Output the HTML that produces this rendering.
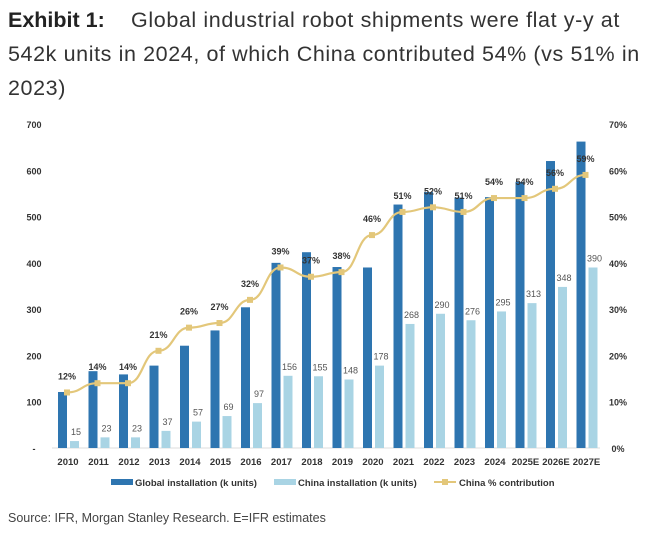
<!DOCTYPE html>
<html><head><style>
body{margin:0;background:#fff;width:660px;height:534px;overflow:hidden;font-family:"Liberation Sans",sans-serif}
.t{position:absolute;left:8px;top:3px;font-size:21.5px;line-height:34px;color:#333;width:660px;white-space:nowrap;letter-spacing:0.6px}
.s{position:absolute;left:8px;top:511px;font-size:12.5px;color:#444}
</style></head><body>
<div class="t"><b style="color:#222;letter-spacing:0">Exhibit 1:</b>&nbsp;&nbsp;&nbsp; Global industrial robot shipments were flat y-y at<br>542k units in 2024, of which China contributed 54% (vs 51% in<br>2023)</div>
<svg width="660" height="534" style="position:absolute;left:0;top:0" font-family="Liberation Sans, sans-serif">
<g id="g"></g>
</svg>
<div class="s">Source: IFR, Morgan Stanley Research. E=IFR estimates</div>
<script>
const G=[121,166,159,178,221,254,304,400,423,391,390,526,553,541,542,575,620,662];
const C=[15,23,23,37,57,69,97,156,155,148,178,268,290,276,295,313,348,390];
const P=[12,14,14,21,26,27,32,39,37,38,46,51,52,51,54,54,56,59];
const L=['2010','2011','2012','2013','2014','2015','2016','2017','2018','2019','2020','2021','2022','2023','2024','2025E','2026E','2027E'];
const y0=448,k=324/700,yp=v=>y0-v*324/70;
let s='';
for(let i=0;i<=7;i++){let y=y0-i*100*k;s+=`<text x="34" y="${y+4}" font-size="9" font-weight="bold" fill="#333" text-anchor="middle">${i?i*100:'-'}</text><text x="618" y="${y+4}" font-size="9" font-weight="bold" fill="#333" text-anchor="middle">${i*10}%</text>`;}
s+=`<line x1="52" x2="600" y1="${y0}" y2="${y0}" stroke="#ddd"/>`;
let pts=[];
for(let i=0;i<18;i++){let cx=68+i*30.5;let gh=G[i]*k,ch=C[i]*k;
s+=`<rect x="${cx-10}" y="${y0-gh}" width="9" height="${gh}" fill="#2e75b0"/><rect x="${cx+2}" y="${y0-ch}" width="9" height="${ch}" fill="#a9d4e4"/>`;
s+=`<text x="${cx+8}" y="${y0-ch-6}" font-size="9" fill="#555" text-anchor="middle">${C[i]}</text>`;
s+=`<text x="${cx}" y="465" font-size="9.5" font-weight="bold" fill="#333" text-anchor="middle">${L[i]}</text>`;
pts.push([cx-1,yp(P[i])]);}
let d='M'+pts[0].join(',');
for(let i=1;i<pts.length;i++){let a=pts[i-1],b=pts[i],m=(b[0]-a[0])/2;d+=` C${a[0]+m},${a[1]} ${b[0]-m},${b[1]} ${b[0]},${b[1]}`;}
s+=`<path d="${d}" fill="none" stroke="#e3c77a" stroke-width="2.2"/>`;
pts.forEach((p,i)=>{s+=`<rect x="${p[0]-3}" y="${p[1]-3}" width="6" height="6" fill="#e3c77a"/><text x="${p[0]}" y="${p[1]-13}" font-size="9" font-weight="bold" fill="#333" text-anchor="middle">${P[i]}%</text>`;});
s+=`<rect x="111" y="479" width="22" height="6" fill="#2e75b0"/><text x="135" y="486" font-size="9.5" font-weight="bold" fill="#333">Global installation (k units)</text>`;
s+=`<rect x="274" y="479" width="22" height="6" fill="#a9d4e4"/><text x="298" y="486" font-size="9.5" font-weight="bold" fill="#333">China installation (k units)</text>`;
s+=`<line x1="434" x2="456" y1="482" y2="482" stroke="#e3c77a" stroke-width="2"/><rect x="442" y="479" width="6" height="6" fill="#e3c77a"/><text x="459" y="486" font-size="9.5" font-weight="bold" fill="#333">China % contribution</text>`;
document.getElementById('g').innerHTML=s;
</script>
</body></html>
